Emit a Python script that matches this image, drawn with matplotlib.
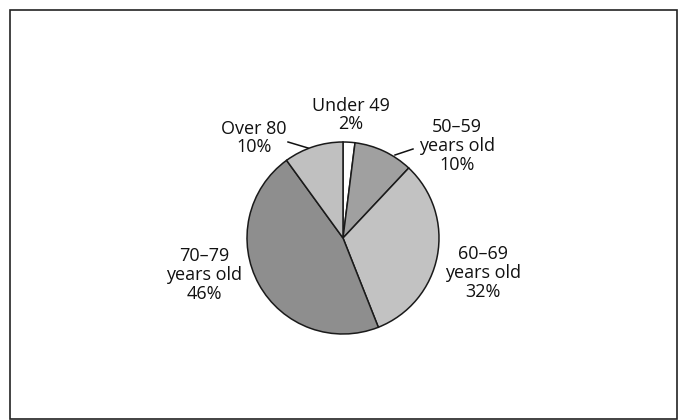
import matplotlib.pyplot as plt
from matplotlib.patches import Rectangle

# age groups, clockwise from 12 o'clock
labels = ['Under 49\n2%', '50\u201359\nyears old\n10%', '60\u201369\nyears old\n32%',
          '70\u201379\nyears old\n46%', 'Over 80\n10%']
shares = [2, 10, 32, 46, 10]
colors = ['#ffffff', '#a0a0a0', '#c2c2c2', '#8e8e8e', '#c0c0c0']

# label anchors in pixel space (y measured from the bottom)
label_pos = [(351, 305), (457, 274), (483, 147), (204, 145), (254, 282)]
# leader lines for the two small slices
leaders = {1: [(395, 265), (413, 271)], 4: [(288, 278), (308, 272)]}

fig = plt.figure(figsize=(6.83, 4.2), dpi=100)
ax = fig.add_axes([0, 0, 1, 1])

# outer frame
ax.add_patch(Rectangle((10, 1.5), 667, 409, fill=False, edgecolor='#222222', lw=1.2))

ax.pie(shares, colors=colors, startangle=90, counterclock=False,
       center=(343, 182), radius=96, frame=True,
       wedgeprops=dict(edgecolor='#1a1a1a', linewidth=1.1))
ax.set_xlim(0, 683)
ax.set_ylim(0, 420)
ax.set_aspect('equal')
ax.axis('off')

for (x, y), txt in zip(label_pos, labels):
    ax.text(x, y, txt, ha='center', va='center', fontsize=13, family='Open Sans',
            color='#111111', linespacing=1.05)

for i, pts in leaders.items():
    xs, ys = zip(*pts)
    ax.plot(xs, ys, color='#111111', lw=1.1)

fig.savefig('out.png', dpi=100, facecolor='white')
